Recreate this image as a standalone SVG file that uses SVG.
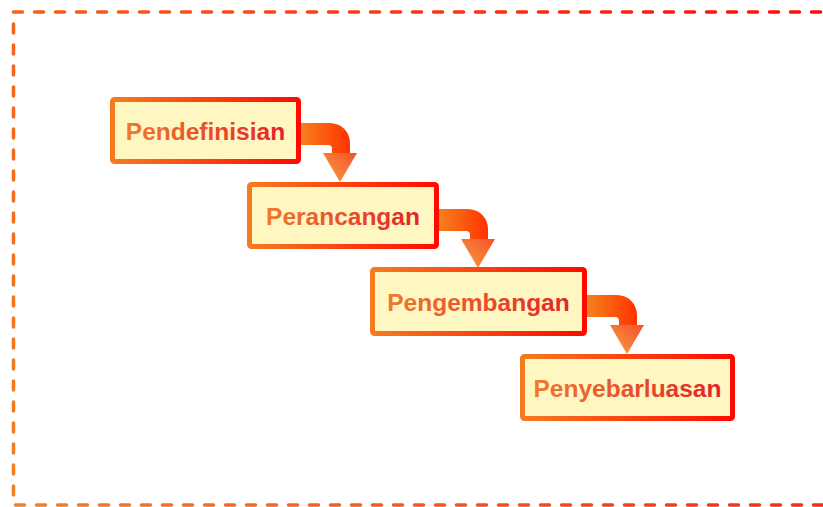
<svg xmlns="http://www.w3.org/2000/svg" xmlns:xlink="http://www.w3.org/1999/xlink" width="823" height="507" viewBox="0 0 823 507">
  <defs>
    <linearGradient id="frameGrad" gradientUnits="userSpaceOnUse" x1="0" y1="507" x2="823" y2="0">
      <stop offset="0" stop-color="#F5821F"/>
      <stop offset="1" stop-color="#FF0A0A"/>
    </linearGradient>
    <linearGradient id="boxStroke" x1="0" y1="0" x2="1" y2="0">
      <stop offset="0" stop-color="#F47B20"/>
      <stop offset="1" stop-color="#FF0A00"/>
    </linearGradient>
    <linearGradient id="textGrad" x1="0" y1="0" x2="1" y2="0">
      <stop offset="0" stop-color="#EF7A2C"/>
      <stop offset="1" stop-color="#E4232A"/>
    </linearGradient>
    <linearGradient id="bandGrad" x1="0" y1="0" x2="1" y2="0">
      <stop offset="0" stop-color="#F5861F"/>
      <stop offset="1" stop-color="#FF3300"/>
    </linearGradient>
    <linearGradient id="headGrad" x1="0" y1="1" x2="1" y2="0">
      <stop offset="0" stop-color="#F9A040"/>
      <stop offset="1" stop-color="#F4502A"/>
    </linearGradient>
    <g id="arrow">
      <path d="M297,123 H330 A20,20 0 0 1 350,143 V154 H332 V149 Q332,145 328,145 H297 Z" fill="url(#bandGrad)"/>
      <path d="M323,153 H357 L340,182 Z" fill="url(#headGrad)"/>
    </g>
  </defs>
  <style>
    .box { fill: #FFF7C2; stroke: url(#boxStroke); stroke-width: 5; }
    .label { font-family: "Liberation Sans", Arial, sans-serif; font-weight: bold; font-size: 24.5px; fill: url(#textGrad); text-anchor: middle; }
  </style>

  <rect id="frame" x="13.5" y="12" width="830" height="493" fill="none" stroke="url(#frameGrad)" stroke-width="3.5" stroke-dasharray="9 12" stroke-linecap="round"/>

  <g id="connectors">
    <use xlink:href="#arrow"/>
    <use xlink:href="#arrow" transform="translate(138,86)"/>
    <use xlink:href="#arrow" transform="translate(287,172)"/>
  </g>

  <g id="node-pendefinisian">
    <rect class="box" x="112.5" y="99.5" width="186" height="62" rx="2"/>
    <text class="label" x="205.5" y="140">Pendefinisian</text>
  </g>
  <g id="node-perancangan">
    <rect class="box" x="249.5" y="184.5" width="187" height="62" rx="2"/>
    <text class="label" x="343" y="225">Perancangan</text>
  </g>
  <g id="node-pengembangan">
    <rect class="box" x="372.5" y="269.5" width="212" height="64" rx="2"/>
    <text class="label" x="478.5" y="311">Pengembangan</text>
  </g>
  <g id="node-penyebarluasan">
    <rect class="box" x="522.5" y="356.5" width="210" height="62" rx="2"/>
    <text class="label" x="627.5" y="397">Penyebarluasan</text>
  </g>
</svg>
